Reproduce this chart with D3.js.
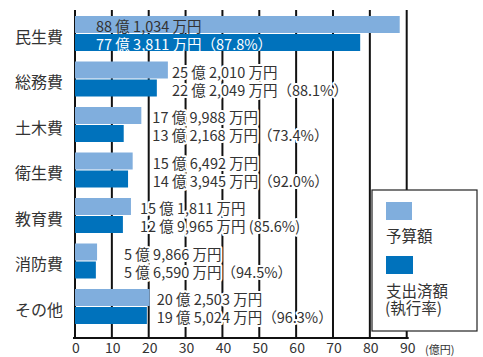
<!DOCTYPE html>
<html><head><meta charset="utf-8">
<script src="https://cdn.jsdelivr.net/npm/d3@7/dist/d3.min.js"></script>
<style>
html,body{margin:0;padding:0;background:#fff;}
svg{display:block;font-family:"Noto Sans CJK JP","Noto Sans",sans-serif;}
</style></head>
<body><svg id="c" width="483" height="357"></svg>
<script>
// Data (values in 万円)
const categories = ["民生費","総務費","土木費","衛生費","教育費","消防費","その他"];
const budget = [881034, 252010, 179988, 156492, 151811, 59866, 202503];
const spent  = [773811, 222049, 132168, 143945, 129965, 56590, 195024];
const xTicks = [0,10,20,30,40,50,60,70,80,90]; // 億円
const unitLabel = "(億円)";
const legendLabels = ["予算額", "支出済額", "(執行率)"];

// layout (px offsets of value labels from bar end; null = inside bar)
const labelDx = [null, 4, 11, 20, 9, 27, 7];

const colLight = "#80aedd", colDark = "#0072bc", txt = "#333";
const svg = d3.select("#c");
const x = d3.scaleLinear().domain([0, 90]).range([75, 406.7]);
const y = d3.scaleBand().domain(categories).range([16, 324]).paddingInner(10.5/45.5).paddingOuter(0);
const ys = d3.scaleBand().domain(["b","s"]).range([0, y.bandwidth()]).paddingInner(1/18);

const fmt = v => {
  const oku = Math.floor(v/10000), man = v % 10000;
  return oku + " 億 " + d3.format(",")(man) + " 万円";
};

// gridlines
svg.append("g").selectAll("line").data(xTicks).join("line")
  .attr("x1", d=>x(d)).attr("x2", d=>x(d)).attr("y1", 10).attr("y2", 338)
  .attr("stroke", "#111").attr("stroke-width", 2);

// axis line
svg.append("line").attr("x1", x(0)-2).attr("x2", x(90)+2).attr("y1", 338).attr("y2", 338)
  .attr("stroke", "#111").attr("stroke-width", 2);

// tick labels
svg.append("g").selectAll("text").data(xTicks).join("text")
  .attr("x", d=>x(d)+1).attr("y", 353).attr("text-anchor","middle")
  .attr("font-size", 14).attr("fill", txt).text(d=>d);
svg.append("text").attr("x", 425).attr("y", 353.5).attr("font-size", 11).attr("fill", txt).text(unitLabel);

// bars
const g = svg.append("g");
categories.forEach((c, i) => {
  g.append("rect").attr("x", x(0)).attr("y", y(c)+ys("b"))
    .attr("width", x(budget[i]/10000)-x(0)).attr("height", ys.bandwidth()).attr("fill", colLight);
  g.append("rect").attr("x", x(0)).attr("y", y(c)+ys("s"))
    .attr("width", x(spent[i]/10000)-x(0)).attr("height", ys.bandwidth()).attr("fill", colDark);
});

// category labels
svg.append("g").selectAll("text").data(categories).join("text")
  .attr("x", 63).attr("y", d=>y(d)+y.bandwidth()/2+2).attr("dominant-baseline","central")
  .attr("text-anchor","end").attr("font-size", 16).attr("fill", txt).text(d=>d);

// value labels
categories.forEach((c, i) => {
  const inside = labelDx[i] === null;
  const lx = inside ? x(0) + 21 : x(Math.max(budget[i], spent[i])/10000) + labelDx[i];
  const rate = d3.format(".1f")(spent[i]/budget[i]*100);
  const rateTxt = (i === 4) ? " (" + rate + "%)" : "（" + rate + "%）";
  const lines = [
    {t: fmt(budget[i]), yy: y(c)+ys("b")+ys.bandwidth()/2, fill: txt},
    {t: fmt(spent[i]) + rateTxt, yy: y(c)+ys("s")+ys.bandwidth()/2, fill: inside ? "#fff" : txt}
  ];
  lines.forEach(l => {
    const t = svg.append("text").attr("x", lx).attr("y", l.yy+1).attr("dominant-baseline","central")
      .attr("font-size", 14.5).attr("fill", l.fill).text(l.t);
    if (!inside) t.attr("stroke", "#fff").attr("stroke-width", 4).attr("paint-order", "stroke").attr("stroke-linejoin","round");
  });
});

// legend
const lg = svg.append("g");
lg.append("rect").attr("x", 372).attr("y", 190).attr("width", 105).attr("height", 141)
  .attr("fill", "#fff").attr("stroke", "#222").attr("stroke-width", 1.2);
lg.append("rect").attr("x", 386).attr("y", 202).attr("width", 26).attr("height", 18).attr("fill", colLight);
lg.append("text").attr("x", 386).attr("y", 235).attr("dominant-baseline","central").attr("font-size", 15.5).attr("fill", txt).text(legendLabels[0]);
lg.append("rect").attr("x", 386).attr("y", 256).attr("width", 27).attr("height", 18).attr("fill", colDark);
lg.append("text").attr("x", 386).attr("y", 289.5).attr("dominant-baseline","central").attr("font-size", 15.5).attr("fill", txt).text(legendLabels[1]);
lg.append("text").attr("x", 385).attr("y", 307).attr("dominant-baseline","central").attr("font-size", 15.5).attr("fill", txt).text(legendLabels[2]);
</script>
</body></html>
